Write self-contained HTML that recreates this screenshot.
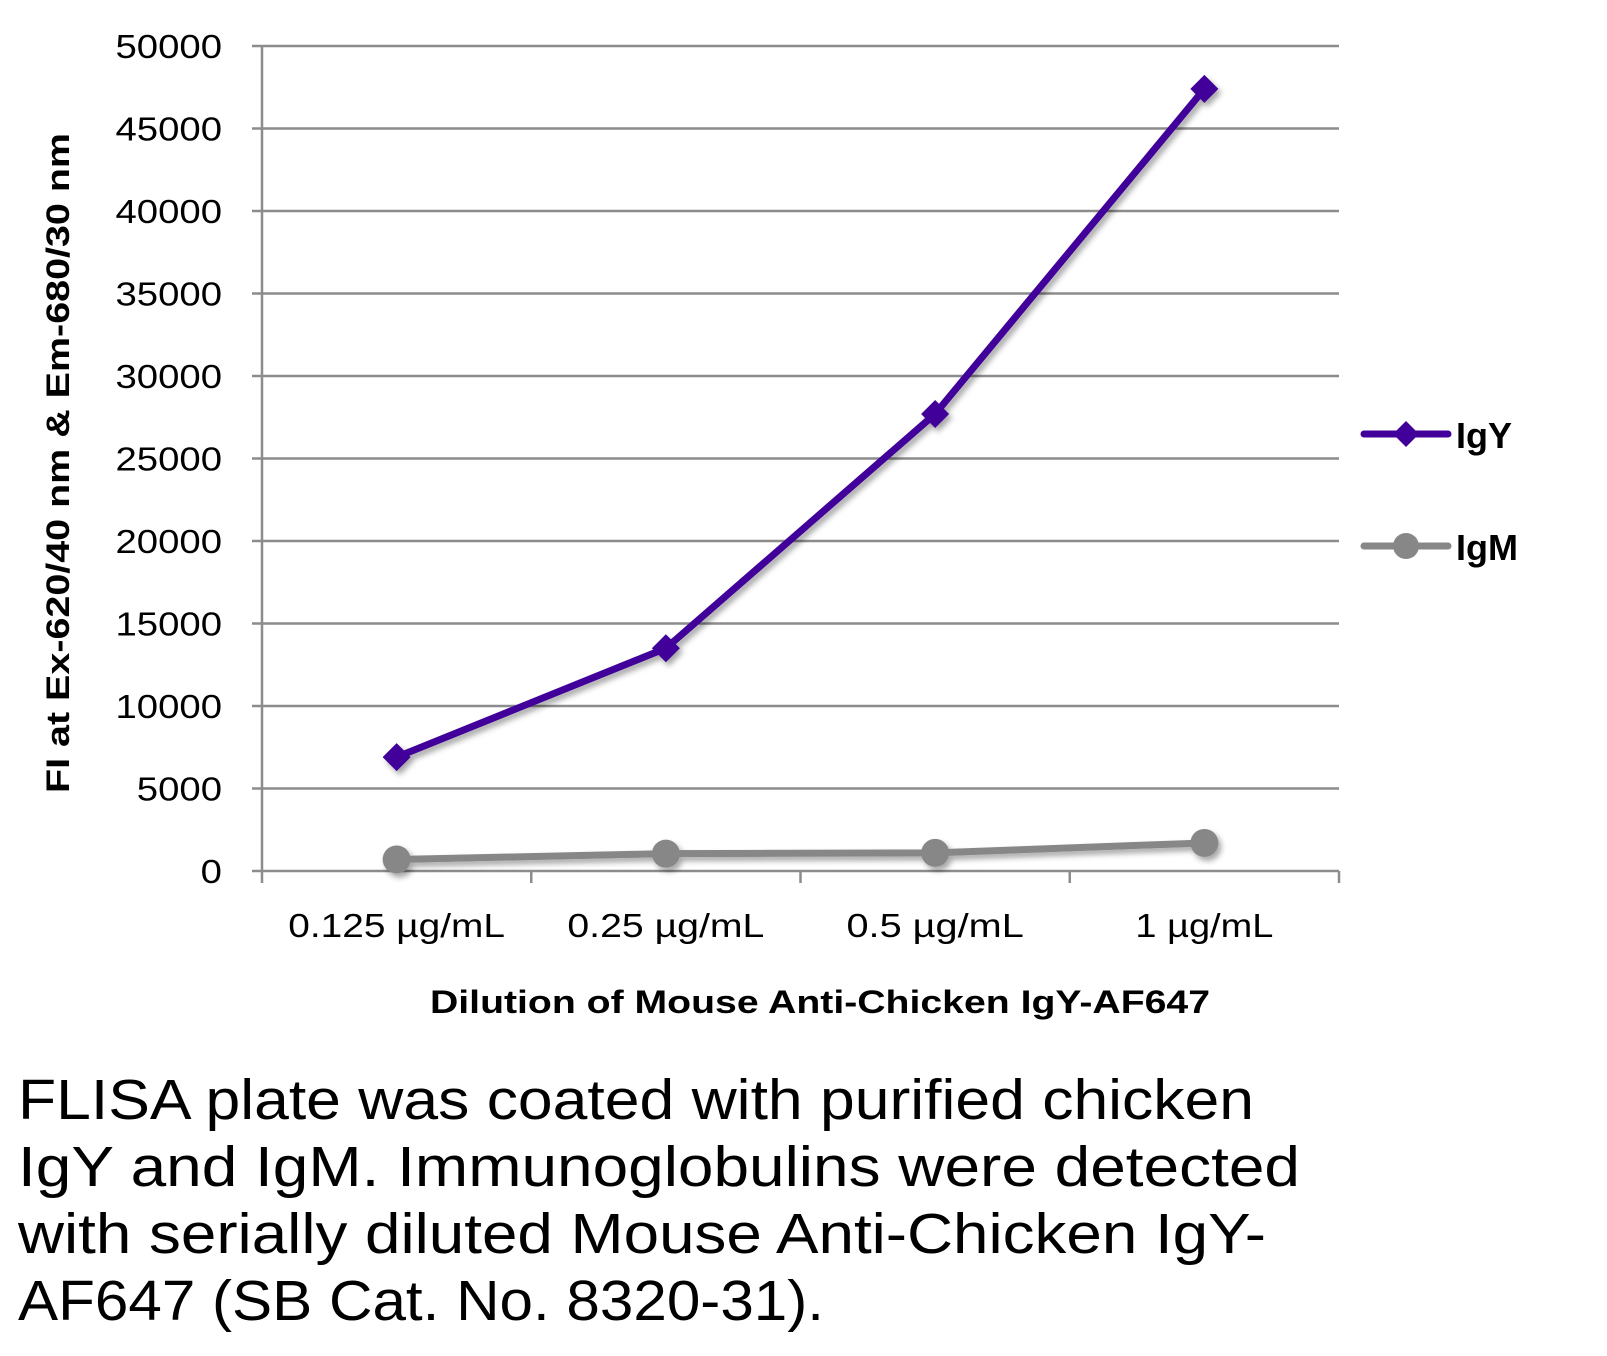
<!DOCTYPE html>
<html><head><meta charset="utf-8"><style>
html,body{margin:0;padding:0;background:#fff;width:1607px;height:1356px;overflow:hidden}
svg{display:block;font-family:"Liberation Sans",sans-serif}
</style></head><body>
<svg id="chart" width="1607" height="1356">
<defs><filter id="sh" x="-20%" y="-20%" width="140%" height="140%"><feDropShadow dx="3" dy="4" stdDeviation="3" flood-color="#000" flood-opacity="0.35"/></filter></defs>
<g id="grid"></g><g id="series"></g><g id="labels"></g>
<g>
 <g>
  <line x1="1364" y1="434" x2="1448" y2="434" stroke="#400099" stroke-width="7" stroke-linecap="round"/>
  <polygon points="1406,421 1419,434 1406,447 1393,434" fill="#400099"/>
  <text x="1456" y="448" font-size="36" font-weight="bold">IgY</text>
 </g>
 <g>
  <line x1="1364" y1="546" x2="1448" y2="546" stroke="#878787" stroke-width="7" stroke-linecap="round"/>
  <circle cx="1406" cy="546" r="13" fill="#878787"/>
  <text x="1456" y="560" font-size="36" font-weight="bold">IgM</text>
 </g>
</g>
<text x="820" y="1013" font-size="32" font-weight="bold" text-anchor="middle" textLength="780" lengthAdjust="spacingAndGlyphs">Dilution of Mouse Anti-Chicken IgY-AF647</text>
<text transform="translate(69,463) rotate(-90)" font-size="32" font-weight="bold" text-anchor="middle" textLength="660" lengthAdjust="spacingAndGlyphs">FI at Ex-620/40 nm &amp; Em-680/30 nm</text>
<g font-size="57">
 <text x="18" y="1119" textLength="1236" lengthAdjust="spacingAndGlyphs">FLISA plate was coated with purified chicken</text>
 <text x="18" y="1186" textLength="1282" lengthAdjust="spacingAndGlyphs">IgY and IgM.  Immunoglobulins were detected</text>
 <text x="18" y="1253" textLength="1248" lengthAdjust="spacingAndGlyphs">with serially diluted Mouse Anti-Chicken IgY-</text>
 <text x="18" y="1320" textLength="806" lengthAdjust="spacingAndGlyphs">AF647 (SB Cat. No. 8320-31).</text>
</g>
</svg>
<script>
const categories=["0.125 µg/mL","0.25 µg/mL","0.5 µg/mL","1 µg/mL"];
const igyValues=[6900,13500,27700,47400];
const igmValues=[700,1050,1100,1700];
const yTicks=[0,5000,10000,15000,20000,25000,30000,35000,40000,45000,50000];
const NS="http://www.w3.org/2000/svg";
const L=262,R=1339,T=46,B=871,yMax=50000;
const bw=(R-L)/categories.length;
function xs(i){return L+bw*(i+0.5);}
function ys(v){return B-(v/yMax)*(B-T);}
function mk(tag,attrs,parent){const e=document.createElementNS(NS,tag);for(const k in attrs)e.setAttribute(k,attrs[k]);parent.appendChild(e);return e;}
const grid=document.getElementById('grid'),lab=document.getElementById('labels'),ser=document.getElementById('series');
yTicks.forEach(v=>{
 const y=ys(v);
 if(v>0){const g=mk('line',{x1:L,x2:R,y1:y,y2:y,stroke:'#8c8c8c','stroke-width':2.5},grid);
 
 }
 mk('line',{x1:L-10,x2:L,y1:y,y2:y,stroke:'#8c8c8c','stroke-width':2.5},grid);
 const s=String(v);
 const t=mk('text',{x:222,y:y+12,'font-size':33,'text-anchor':'end',textLength:s.length*21.3,lengthAdjust:'spacingAndGlyphs'},lab);t.textContent=s;
 
 
});
const ax=mk('line',{x1:L,x2:L,y1:T,y2:B,stroke:'#8c8c8c','stroke-width':2.5},grid);


const xa=mk('line',{x1:L,x2:R,y1:B,y2:B,stroke:'#8c8c8c','stroke-width':2.5},grid);


for(let i=0;i<=categories.length;i++){const x=L+bw*i;mk('line',{x1:x,x2:x,y1:B,y2:B+12,stroke:'#8c8c8c','stroke-width':2.5},grid);}
categories.forEach((c,i)=>{const t=mk('text',{x:xs(i),y:937,'font-size':33,'text-anchor':'middle',textLength:c.length*19.7,lengthAdjust:'spacingAndGlyphs'},lab);t.textContent=c;
 
 });
function series(vals,color,name,marker){
 const g=mk('g',{filter:'url(#sh)'},ser);
 
 
 mk('polyline',{points:vals.map((v,i)=>xs(i)+','+ys(v)).join(' '),fill:'none',stroke:color,'stroke-width':7,'stroke-linejoin':'round'},g);
 vals.forEach((v,i)=>{const x=xs(i),y=ys(v);let m;
  if(marker==='d')m=mk('polygon',{points:`${x},${y-14} ${x+14},${y} ${x},${y+14} ${x-14},${y}`,fill:color},g);
  else m=mk('circle',{cx:x,cy:y,r:14,fill:color},g);
  
  });
}
series(igmValues,'#878787','igm','c');
series(igyValues,'#400099','igy','d');
</script>
</body></html>
